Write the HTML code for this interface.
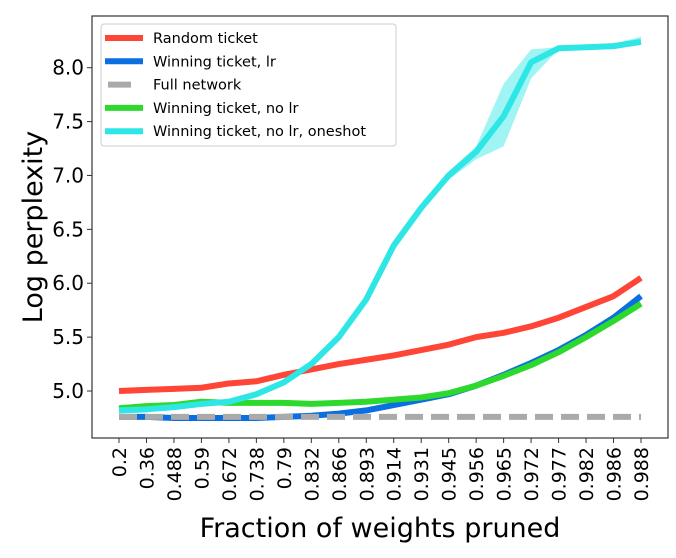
<!DOCTYPE html>
<html><head><meta charset="utf-8"><style>
body{margin:0;background:#fff;}
svg{display:block;font-family:"DejaVu Sans","Liberation Sans",sans-serif;}
</style></head><body>
<svg id="chart" width="676" height="558" viewBox="0 0 676 558" xmlns="http://www.w3.org/2000/svg">
<g id="bands"></g><g id="lines"></g>
<rect x="92" y="16" width="576" height="422" fill="none" stroke="#333" stroke-width="1.2"/>
<g id="axes"></g>
<text transform="translate(42,227) rotate(-90)" text-anchor="middle" font-size="27">Log perplexity</text>
<text x="380" y="537" text-anchor="middle" font-size="27">Fraction of weights pruned</text>
<g>
<rect x="101" y="24" width="295" height="122" rx="3" fill="#fff" fill-opacity="0.85" stroke="#ccc"/>
<g id="legend-entries"></g>
</g>
</svg>
<script>
const categories=["0.2","0.36","0.488","0.59","0.672","0.738","0.79","0.832","0.866","0.893","0.914","0.931","0.945","0.956","0.965","0.972","0.977","0.982","0.986","0.988"];
const randomTicket=[5.0,5.01,5.02,5.03,5.07,5.09,5.15,5.2,5.25,5.29,5.33,5.38,5.43,5.5,5.54,5.6,5.68,5.78,5.88,6.05];
const winningLr=[4.76,4.76,4.75,4.75,4.75,4.75,4.76,4.77,4.79,4.82,4.87,4.92,4.97,5.05,5.15,5.26,5.38,5.52,5.68,5.88];
const fullNetwork=[4.76,4.76,4.76,4.76,4.76,4.76,4.76,4.76,4.76,4.76,4.76,4.76,4.76,4.76,4.76,4.76,4.76,4.76,4.76,4.76];
const winningNoLr=[4.84,4.86,4.87,4.9,4.89,4.89,4.89,4.88,4.89,4.9,4.92,4.94,4.98,5.05,5.14,5.24,5.36,5.5,5.65,5.81];
const oneshot=[4.82,4.83,4.85,4.88,4.9,4.97,5.08,5.25,5.5,5.85,6.35,6.7,7.0,7.22,7.55,8.05,8.18,8.19,8.2,8.24];
const oneshotLow=[4.81,4.82,4.84,4.87,4.89,4.96,5.07,5.24,5.48,5.83,6.3,6.66,6.96,7.15,7.27,7.9,8.17,8.18,8.19,8.22];
const oneshotHigh=[4.83,4.84,4.86,4.89,4.91,4.98,5.09,5.26,5.52,5.87,6.4,6.74,7.04,7.27,7.85,8.17,8.19,8.2,8.22,8.29];
const yTicks=[5.0,5.5,6.0,6.5,7.0,7.5,8.0];
const NS="http://www.w3.org/2000/svg";
const x=i=>119+i*(641-119)/(categories.length-1);
const y=v=>391-(v-5)*(391-67.7)/3;
function mk(tag,attrs,parent){const e=document.createElementNS(NS,tag);for(const k in attrs)e.setAttribute(k,attrs[k]);parent.appendChild(e);return e;}
const axes=document.getElementById('axes'),lines=document.getElementById('lines'),bands=document.getElementById('bands');
yTicks.forEach(t=>{
 const l=mk('line',{x1:87,x2:92,y1:y(t),y2:y(t),stroke:'#333'},axes);
 
 
 const tx=mk('text',{x:84,y:y(t)+7,'text-anchor':'end','font-size':'20'},axes);
 
 
 tx.textContent=t.toFixed(1);
});
categories.forEach((c,i)=>{
 const l=mk('line',{x1:x(i),x2:x(i),y1:438,y2:443,stroke:'#333'},axes);
 
 
 const tx=mk('text',{transform:`translate(${x(i)+7},447) rotate(-90)`,'text-anchor':'end','font-size':'19'},axes);
 
 
 tx.textContent=c;
});
const band=(lo,hi,col)=>{
 let d='M'+lo.map((v,i)=>x(i)+','+y(v)).join('L');
 for(let i=hi.length-1;i>=0;i--)d+='L'+x(i)+','+y(hi[i]);
 const p=mk('path',{d:d+'Z',fill:col,'fill-opacity':0.45},bands);
 
 
};
band(oneshotLow,oneshotHigh,'#2ee6e6');
const series=[
 {name:'random-ticket-line',label:'Random ticket',data:randomTicket,col:'#ff4536',dash:''},
 {name:'winning-lr-line',label:'Winning ticket, lr',data:winningLr,col:'#0a6fe0',dash:''},
 {name:'full-network-line',label:'Full network',data:fullNetwork,col:'#aaaaaa',dash:'18,8'},
 {name:'winning-no-lr-line',label:'Winning ticket, no lr',data:winningNoLr,col:'#2ed92e',dash:''},
 {name:'oneshot-line',label:'Winning ticket, no lr, oneshot',data:oneshot,col:'#2ee6e6',dash:''}];
const drawOrder=[0,1,3,2,4];
drawOrder.forEach(k=>{const s=series[k];
 const p=mk('polyline',{points:s.data.map((v,i)=>x(i)+','+y(v)).join(' '),fill:'none',stroke:s.col,'stroke-width':6,'stroke-linejoin':'round','stroke-dasharray':s.dash},lines);
 
 
});
const leg=document.getElementById('legend-entries');
series.forEach((s,i)=>{const yy=38+i*23.3;
 const l=mk('line',{x1:s.dash?108:105,x2:s.dash?131:143,y1:yy,y2:yy,stroke:s.col,'stroke-width':6},leg);
 
 
 const t=mk('text',{x:153,y:yy+5,'font-size':'14.5'},leg);
 
 
 t.textContent=s.label;
});
</script>
</body></html>
